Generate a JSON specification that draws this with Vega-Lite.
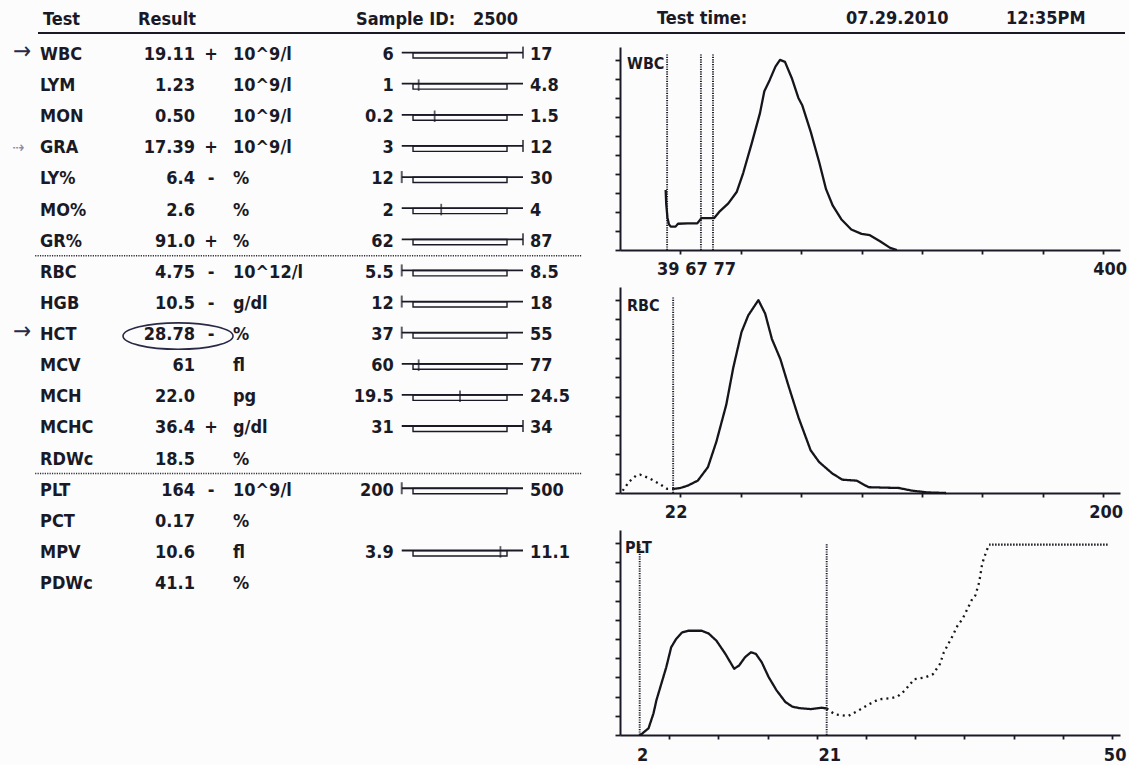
{
  "$schema": "https://vega.github.io/schema/vega-lite/v6.json",
  "background": "#fcfcfc",
  "padding": 0,
  "spacing": 0,
  "bounds": "flush",
  "config": {
    "view": {"stroke": null},
    "text": {"font": "DejaVu Sans Condensed, DejaVu Sans", "fontSize": 18, "fontWeight": "bold", "color": "#1a1a26", "baseline": "middle"},
    "axis": {"domainColor": "#1a1a26", "domainWidth": 2, "tickColor": "#1a1a26", "tickWidth": 1.8, "grid": false},
    "rule": {"color": "#1a1a26"},
    "tick": {"color": "#1a1a26"}
  },
  "datasets": {
    "report": [{"sample_id": "2500", "date": "07.29.2010", "time": "12:35PM"}],
    "rows": [
      {"test": "WBC", "result": "19.11", "flag": "+", "unit": "10^9/l", "low": 6, "high": 17},
      {"test": "LYM", "result": "1.23", "flag": "", "unit": "10^9/l", "low": 1, "high": 4.8, "frac": 0.06},
      {"test": "MON", "result": "0.50", "flag": "", "unit": "10^9/l", "low": 0.2, "high": 1.5, "frac": 0.23},
      {"test": "GRA", "result": "17.39", "flag": "+", "unit": "10^9/l", "low": 3, "high": 12},
      {"test": "LY%", "result": "6.4", "flag": "-", "unit": "%", "low": 12, "high": 30},
      {"test": "MO%", "result": "2.6", "flag": "", "unit": "%", "low": 2, "high": 4, "frac": 0.3},
      {"test": "GR%", "result": "91.0", "flag": "+", "unit": "%", "low": 62, "high": 87},
      {"test": "RBC", "result": "4.75", "flag": "-", "unit": "10^12/l", "low": 5.5, "high": 8.5},
      {"test": "HGB", "result": "10.5", "flag": "-", "unit": "g/dl", "low": 12, "high": 18},
      {"test": "HCT", "result": "28.78", "flag": "-", "unit": "%", "low": 37, "high": 55},
      {"test": "MCV", "result": "61", "flag": "", "unit": "fl", "low": 60, "high": 77, "frac": 0.06},
      {"test": "MCH", "result": "22.0", "flag": "", "unit": "pg", "low": 19.5, "high": 24.5, "frac": 0.5},
      {"test": "MCHC", "result": "36.4", "flag": "+", "unit": "g/dl", "low": 31, "high": 34},
      {"test": "RDWc", "result": "18.5", "flag": "", "unit": "%"},
      {"test": "PLT", "result": "164", "flag": "-", "unit": "10^9/l", "low": 200, "high": 500},
      {"test": "PCT", "result": "0.17", "flag": "", "unit": "%"},
      {"test": "MPV", "result": "10.6", "flag": "", "unit": "fl", "low": 3.9, "high": 11.1, "frac": 0.93},
      {"test": "PDWc", "result": "41.1", "flag": "", "unit": "%"}
    ],
    "seps": [{"after": "GR%"}, {"after": "RDWc"}],
    "notes": [
      {"test": "WBC", "sign": "→", "kind": "arrow"},
      {"test": "GRA", "sign": "⇢", "kind": "faint"},
      {"test": "HCT", "sign": "→", "kind": "arrow"}
    ],
    "circled": [{"test": "HCT"}],
    "hists": [{"hist": "WBC"}, {"hist": "RBC"}, {"hist": "PLT"}],
    "cuts": [
      {"hist": "WBC", "fl": 39}, {"hist": "WBC", "fl": 67}, {"hist": "WBC", "fl": 77},
      {"hist": "RBC", "fl": 22},
      {"hist": "PLT", "fl": 2}, {"hist": "PLT", "fl": 21}
    ],
    "ticklabels": [
      {"hist": "WBC", "fl": 39, "label": "39 67 77"},
      {"hist": "WBC", "fl": 400, "label": "400"},
      {"hist": "RBC", "fl": 22, "label": "22"},
      {"hist": "RBC", "fl": 200, "label": "200"},
      {"hist": "PLT", "fl": 2, "label": "2"},
      {"hist": "PLT", "fl": 21, "label": "21"},
      {"hist": "PLT", "fl": 50, "label": "50"}
    ],
    "wbc": [
      {"fl": 37.8, "n": 31.6}, {"fl": 38.3, "n": 24}, {"fl": 39.3, "n": 17}, {"fl": 40.5, "n": 13.5},
      {"fl": 42, "n": 12.3}, {"fl": 46, "n": 12.3}, {"fl": 48, "n": 13.8}, {"fl": 56, "n": 14},
      {"fl": 64, "n": 14}, {"fl": 67.5, "n": 16.8}, {"fl": 78, "n": 16.8}, {"fl": 82.8, "n": 20.5},
      {"fl": 89.7, "n": 24.5}, {"fl": 96.6, "n": 30.5}, {"fl": 102, "n": 40.5}, {"fl": 109, "n": 56},
      {"fl": 115.9, "n": 72}, {"fl": 119.5, "n": 83.5}, {"fl": 124, "n": 89.5}, {"fl": 128.7, "n": 96.5},
      {"fl": 132.5, "n": 100}, {"fl": 136.6, "n": 99}, {"fl": 142.2, "n": 90.5}, {"fl": 147.7, "n": 80},
      {"fl": 151, "n": 76}, {"fl": 158, "n": 62}, {"fl": 165, "n": 46}, {"fl": 170.6, "n": 32},
      {"fl": 176.2, "n": 23.3}, {"fl": 183.2, "n": 16.2}, {"fl": 191.5, "n": 10.8}, {"fl": 200, "n": 8.5},
      {"fl": 206.9, "n": 7.8}, {"fl": 215.3, "n": 4.6}, {"fl": 223.7, "n": 1.1}, {"fl": 229.3, "n": 0}
    ],
    "rbc": [
      {"fl": 1.1, "n": 1.2, "seg": "dotted"}, {"fl": 3.8, "n": 5.9, "seg": "dotted"}, {"fl": 6.7, "n": 9.1, "seg": "dotted"},
      {"fl": 8.3, "n": 9.5, "seg": "dotted"}, {"fl": 12, "n": 7.7, "seg": "dotted"}, {"fl": 16.2, "n": 4.8, "seg": "dotted"},
      {"fl": 19.5, "n": 2.2, "seg": "dotted"}, {"fl": 22, "n": 2.1, "seg": "dotted"},
      {"fl": 22, "n": 2.1, "seg": "solid"}, {"fl": 25, "n": 2.6, "seg": "solid"}, {"fl": 28, "n": 3.8, "seg": "solid"},
      {"fl": 32.2, "n": 6.4, "seg": "solid"}, {"fl": 36.4, "n": 13.4, "seg": "solid"}, {"fl": 39.9, "n": 26.6, "seg": "solid"},
      {"fl": 44, "n": 45.8, "seg": "solid"}, {"fl": 46.9, "n": 65, "seg": "solid"}, {"fl": 50.3, "n": 83.4, "seg": "solid"},
      {"fl": 53.1, "n": 92.1, "seg": "solid"}, {"fl": 57.3, "n": 100, "seg": "solid"}, {"fl": 60.1, "n": 93, "seg": "solid"},
      {"fl": 62.9, "n": 79.8, "seg": "solid"}, {"fl": 66.4, "n": 69.4, "seg": "solid"}, {"fl": 69.8, "n": 55.4, "seg": "solid"},
      {"fl": 74, "n": 38.8, "seg": "solid"}, {"fl": 78.9, "n": 22.2, "seg": "solid"}, {"fl": 82.4, "n": 16.1, "seg": "solid"},
      {"fl": 88, "n": 10, "seg": "solid"}, {"fl": 92.1, "n": 6.9, "seg": "solid"}, {"fl": 98, "n": 6.4, "seg": "solid"},
      {"fl": 102.9, "n": 3, "seg": "solid"}, {"fl": 115.4, "n": 2.6, "seg": "solid"}, {"fl": 121, "n": 1.2, "seg": "solid"},
      {"fl": 127.3, "n": 0.3, "seg": "solid"}, {"fl": 135, "n": 0, "seg": "solid"}
    ],
    "plt": [
      {"fl": 2.0, "n": 0, "seg": "solid"}, {"fl": 2.2, "n": 0.5, "seg": "solid"}, {"fl": 2.9, "n": 3.5, "seg": "solid"},
      {"fl": 3.4, "n": 11.2, "seg": "solid"}, {"fl": 3.7, "n": 18.1, "seg": "solid"}, {"fl": 4.2, "n": 26.7, "seg": "solid"},
      {"fl": 4.7, "n": 35.3, "seg": "solid"}, {"fl": 5.2, "n": 45.7, "seg": "solid"}, {"fl": 5.7, "n": 50, "seg": "solid"},
      {"fl": 6.3, "n": 53.4, "seg": "solid"}, {"fl": 6.9, "n": 54.3, "seg": "solid"}, {"fl": 8.3, "n": 54.3, "seg": "solid"},
      {"fl": 9, "n": 52.9, "seg": "solid"}, {"fl": 9.8, "n": 49.1, "seg": "solid"}, {"fl": 10.7, "n": 42.3, "seg": "solid"},
      {"fl": 11.6, "n": 34.5, "seg": "solid"}, {"fl": 12.1, "n": 36.2, "seg": "solid"}, {"fl": 12.7, "n": 40.5, "seg": "solid"},
      {"fl": 13.3, "n": 43.1, "seg": "solid"}, {"fl": 13.8, "n": 42.3, "seg": "solid"}, {"fl": 14.4, "n": 37.9, "seg": "solid"},
      {"fl": 15.1, "n": 30.2, "seg": "solid"}, {"fl": 15.9, "n": 23.3, "seg": "solid"}, {"fl": 16.8, "n": 17.2, "seg": "solid"},
      {"fl": 17.5, "n": 14.8, "seg": "solid"}, {"fl": 18.2, "n": 14, "seg": "solid"}, {"fl": 19.4, "n": 13.5, "seg": "solid"},
      {"fl": 20.5, "n": 14.2, "seg": "solid"}, {"fl": 21, "n": 13.8, "seg": "solid"},
      {"fl": 21, "n": 13.8, "seg": "dotted"}, {"fl": 21.8, "n": 10.8, "seg": "dotted"}, {"fl": 23.2, "n": 9.9, "seg": "dotted"},
      {"fl": 24.4, "n": 13.3, "seg": "dotted"}, {"fl": 25.3, "n": 16, "seg": "dotted"}, {"fl": 26.3, "n": 18.6, "seg": "dotted"},
      {"fl": 27.4, "n": 19.1, "seg": "dotted"}, {"fl": 28.2, "n": 20, "seg": "dotted"}, {"fl": 28.9, "n": 23, "seg": "dotted"},
      {"fl": 29.9, "n": 29.1, "seg": "dotted"}, {"fl": 31, "n": 30, "seg": "dotted"}, {"fl": 31.8, "n": 31.7, "seg": "dotted"},
      {"fl": 32.5, "n": 36.9, "seg": "dotted"}, {"fl": 32.9, "n": 43, "seg": "dotted"}, {"fl": 33.8, "n": 51.7, "seg": "dotted"},
      {"fl": 34.3, "n": 57, "seg": "dotted"}, {"fl": 34.8, "n": 60.5, "seg": "dotted"}, {"fl": 35.3, "n": 65.7, "seg": "dotted"},
      {"fl": 35.8, "n": 71, "seg": "dotted"}, {"fl": 36.1, "n": 72.7, "seg": "dotted"}, {"fl": 36.5, "n": 79.7, "seg": "dotted"},
      {"fl": 36.8, "n": 89.3, "seg": "dotted"}, {"fl": 37.2, "n": 95.4, "seg": "dotted"}, {"fl": 37.5, "n": 99.2, "seg": "dotted"},
      {"fl": 37.5, "n": 99.2, "seg": "dense"}, {"fl": 49.6, "n": 99.2, "seg": "dense"}
    ]
  },
  "vconcat": [
    {
      "width": 1129,
      "height": 47,
      "data": {"name": "report"},
      "layer": [
        {"mark": {"type": "text", "text": "Test", "align": "left"},
         "encoding": {"x": {"datum": 43, "type": "quantitative", "scale": {"domain": [0, 1129], "nice": false, "zero": false}, "axis": null},
                      "y": {"datum": 20, "type": "quantitative", "scale": {"domain": [0, 47], "reverse": true, "nice": false, "zero": false}, "axis": null}}},
        {"mark": {"type": "text", "text": "Result", "align": "left"},
         "encoding": {"x": {"datum": 138, "type": "quantitative", "scale": {"domain": [0, 1129], "nice": false, "zero": false}, "axis": null},
                      "y": {"datum": 20, "type": "quantitative", "scale": {"domain": [0, 47], "reverse": true, "nice": false, "zero": false}, "axis": null}}},
        {"mark": {"type": "text", "text": "Sample ID:", "align": "left"},
         "encoding": {"x": {"datum": 356, "type": "quantitative", "scale": {"domain": [0, 1129], "nice": false, "zero": false}, "axis": null},
                      "y": {"datum": 20, "type": "quantitative", "scale": {"domain": [0, 47], "reverse": true, "nice": false, "zero": false}, "axis": null}}},
        {"mark": {"type": "text", "align": "left"},
         "encoding": {"x": {"datum": 473, "type": "quantitative", "scale": {"domain": [0, 1129], "nice": false, "zero": false}, "axis": null},
                      "y": {"datum": 20, "type": "quantitative", "scale": {"domain": [0, 47], "reverse": true, "nice": false, "zero": false}, "axis": null},
                      "text": {"field": "sample_id"}}},
        {"mark": {"type": "text", "text": "Test time:", "align": "left"},
         "encoding": {"x": {"datum": 657, "type": "quantitative", "scale": {"domain": [0, 1129], "nice": false, "zero": false}, "axis": null},
                      "y": {"datum": 19, "type": "quantitative", "scale": {"domain": [0, 47], "reverse": true, "nice": false, "zero": false}, "axis": null}}},
        {"mark": {"type": "text", "align": "left"},
         "encoding": {"x": {"datum": 846, "type": "quantitative", "scale": {"domain": [0, 1129], "nice": false, "zero": false}, "axis": null},
                      "y": {"datum": 19, "type": "quantitative", "scale": {"domain": [0, 47], "reverse": true, "nice": false, "zero": false}, "axis": null},
                      "text": {"field": "date"}}},
        {"mark": {"type": "text", "align": "left"},
         "encoding": {"x": {"datum": 1006, "type": "quantitative", "scale": {"domain": [0, 1129], "nice": false, "zero": false}, "axis": null},
                      "y": {"datum": 19, "type": "quantitative", "scale": {"domain": [0, 47], "reverse": true, "nice": false, "zero": false}, "axis": null},
                      "text": {"field": "time"}}},
        {"mark": {"type": "rule", "strokeWidth": 2},
         "encoding": {"x": {"datum": 38, "type": "quantitative", "scale": {"domain": [0, 1129], "nice": false, "zero": false}, "axis": null},
                      "x2": {"datum": 1125},
                      "y": {"datum": 33, "type": "quantitative", "scale": {"domain": [0, 47], "reverse": true, "nice": false, "zero": false}, "axis": null}}}
      ]
    },
    {
      "spacing": 0,
      "bounds": "flush",
      "hconcat": [
        {
          "width": 620,
          "height": 545,
          "layer": [
            {"data": {"name": "seps"},
             "mark": {"type": "rule", "strokeDash": [1.2, 1.2], "strokeWidth": 1.6, "color": "#2e2e38", "yOffset": 14},
             "encoding": {"x": {"datum": -4.02, "type": "quantitative", "scale": {"domain": [-4.394, 2.202], "nice": false, "zero": false}, "axis": null},
                          "x2": {"datum": 1.8},
                          "y": {"field": "after", "type": "nominal", "scale": {"type": "point", "domain": ["WBC","LYM","MON","GRA","LY%","MO%","GR%","RBC","HGB","HCT","MCV","MCH","MCHC","RDWc","PLT","PCT","MPV","PDWc"], "padding": 0.257}, "axis": null}}},
            {"data": {"name": "rows"},
             "mark": {"type": "text", "align": "left"},
             "encoding": {"x": {"datum": -3.968, "type": "quantitative", "scale": {"domain": [-4.394, 2.202], "nice": false, "zero": false}, "axis": null},
                          "y": {"field": "test", "type": "nominal", "scale": {"type": "point", "domain": ["WBC","LYM","MON","GRA","LY%","MO%","GR%","RBC","HGB","HCT","MCV","MCH","MCHC","RDWc","PLT","PCT","MPV","PDWc"], "padding": 0.257}, "axis": null},
                          "text": {"field": "test"}}},
            {"data": {"name": "rows"},
             "mark": {"type": "text", "align": "right"},
             "encoding": {"x": {"datum": -2.319, "type": "quantitative", "scale": {"domain": [-4.394, 2.202], "nice": false, "zero": false}, "axis": null},
                          "y": {"field": "test", "type": "nominal", "scale": {"type": "point", "domain": ["WBC","LYM","MON","GRA","LY%","MO%","GR%","RBC","HGB","HCT","MCV","MCH","MCHC","RDWc","PLT","PCT","MPV","PDWc"], "padding": 0.257}, "axis": null},
                          "text": {"field": "result"}}},
            {"data": {"name": "rows"},
             "mark": {"type": "text", "align": "center"},
             "encoding": {"x": {"datum": -2.149, "type": "quantitative", "scale": {"domain": [-4.394, 2.202], "nice": false, "zero": false}, "axis": null},
                          "y": {"field": "test", "type": "nominal", "scale": {"type": "point", "domain": ["WBC","LYM","MON","GRA","LY%","MO%","GR%","RBC","HGB","HCT","MCV","MCH","MCHC","RDWc","PLT","PCT","MPV","PDWc"], "padding": 0.257}, "axis": null},
                          "text": {"field": "flag"}}},
            {"data": {"name": "rows"},
             "mark": {"type": "text", "align": "left"},
             "encoding": {"x": {"datum": -1.915, "type": "quantitative", "scale": {"domain": [-4.394, 2.202], "nice": false, "zero": false}, "axis": null},
                          "y": {"field": "test", "type": "nominal", "scale": {"type": "point", "domain": ["WBC","LYM","MON","GRA","LY%","MO%","GR%","RBC","HGB","HCT","MCV","MCH","MCHC","RDWc","PLT","PCT","MPV","PDWc"], "padding": 0.257}, "axis": null},
                          "text": {"field": "unit"}}},
            {"data": {"name": "rows"},
             "transform": [{"filter": "isValid(datum.low)"}],
             "mark": {"type": "bar", "size": 5.3, "yOffset": 0.4, "fill": "#fcfcfc", "stroke": "#1a1a26", "strokeWidth": 1.4},
             "encoding": {"x": {"datum": 0, "type": "quantitative", "scale": {"domain": [-4.394, 2.202], "nice": false, "zero": false}, "axis": null},
                          "x2": {"datum": 1},
                          "y": {"field": "test", "type": "nominal", "scale": {"type": "point", "domain": ["WBC","LYM","MON","GRA","LY%","MO%","GR%","RBC","HGB","HCT","MCV","MCH","MCHC","RDWc","PLT","PCT","MPV","PDWc"], "padding": 0.257}, "axis": null}}},
            {"data": {"name": "rows"},
             "transform": [{"filter": "isValid(datum.low)"}],
             "mark": {"type": "rule", "strokeWidth": 1.8, "yOffset": -2.4},
             "encoding": {"x": {"datum": -0.12, "type": "quantitative", "scale": {"domain": [-4.394, 2.202], "nice": false, "zero": false}, "axis": null},
                          "x2": {"datum": 1.17},
                          "y": {"field": "test", "type": "nominal", "scale": {"type": "point", "domain": ["WBC","LYM","MON","GRA","LY%","MO%","GR%","RBC","HGB","HCT","MCV","MCH","MCHC","RDWc","PLT","PCT","MPV","PDWc"], "padding": 0.257}, "axis": null}}},
            {"data": {"name": "rows"},
             "transform": [{"filter": "isValid(datum.low)"}],
             "mark": {"type": "text", "align": "right", "dx": -8},
             "encoding": {"x": {"datum": -0.12, "type": "quantitative", "scale": {"domain": [-4.394, 2.202], "nice": false, "zero": false}, "axis": null},
                          "y": {"field": "test", "type": "nominal", "scale": {"type": "point", "domain": ["WBC","LYM","MON","GRA","LY%","MO%","GR%","RBC","HGB","HCT","MCV","MCH","MCHC","RDWc","PLT","PCT","MPV","PDWc"], "padding": 0.257}, "axis": null},
                          "text": {"field": "low", "type": "nominal"}}},
            {"data": {"name": "rows"},
             "transform": [{"filter": "isValid(datum.low)"}],
             "mark": {"type": "text", "align": "left", "dx": 7},
             "encoding": {"x": {"datum": 1.17, "type": "quantitative", "scale": {"domain": [-4.394, 2.202], "nice": false, "zero": false}, "axis": null},
                          "y": {"field": "test", "type": "nominal", "scale": {"type": "point", "domain": ["WBC","LYM","MON","GRA","LY%","MO%","GR%","RBC","HGB","HCT","MCV","MCH","MCHC","RDWc","PLT","PCT","MPV","PDWc"], "padding": 0.257}, "axis": null},
                          "text": {"field": "high", "type": "nominal"}}},
            {"data": {"name": "rows"},
             "transform": [{"filter": "isValid(datum.frac)"}],
             "mark": {"type": "tick", "orient": "vertical", "size": 11.5, "thickness": 1.8, "yOffset": -1},
             "encoding": {"x": {"field": "frac", "type": "quantitative", "scale": {"domain": [-4.394, 2.202], "nice": false, "zero": false}, "axis": null},
                          "y": {"field": "test", "type": "nominal", "scale": {"type": "point", "domain": ["WBC","LYM","MON","GRA","LY%","MO%","GR%","RBC","HGB","HCT","MCV","MCH","MCHC","RDWc","PLT","PCT","MPV","PDWc"], "padding": 0.257}, "axis": null}}},
            {"data": {"name": "rows"},
             "transform": [{"filter": "datum.flag === '+'"}],
             "mark": {"type": "tick", "orient": "vertical", "size": 12, "thickness": 2, "yOffset": -2.4},
             "encoding": {"x": {"datum": 1.17, "type": "quantitative", "scale": {"domain": [-4.394, 2.202], "nice": false, "zero": false}, "axis": null},
                          "y": {"field": "test", "type": "nominal", "scale": {"type": "point", "domain": ["WBC","LYM","MON","GRA","LY%","MO%","GR%","RBC","HGB","HCT","MCV","MCH","MCHC","RDWc","PLT","PCT","MPV","PDWc"], "padding": 0.257}, "axis": null}}},
            {"data": {"name": "rows"},
             "transform": [{"filter": "datum.flag === '-'"}],
             "mark": {"type": "tick", "orient": "vertical", "size": 12, "thickness": 2, "yOffset": -2.4},
             "encoding": {"x": {"datum": -0.12, "type": "quantitative", "scale": {"domain": [-4.394, 2.202], "nice": false, "zero": false}, "axis": null},
                          "y": {"field": "test", "type": "nominal", "scale": {"type": "point", "domain": ["WBC","LYM","MON","GRA","LY%","MO%","GR%","RBC","HGB","HCT","MCV","MCH","MCHC","RDWc","PLT","PCT","MPV","PDWc"], "padding": 0.257}, "axis": null}}},
            {"data": {"name": "notes"},
             "transform": [{"filter": "datum.kind === 'arrow'"}],
             "mark": {"type": "text", "align": "center", "fontSize": 24, "fontWeight": "normal", "color": "#2a2a48", "yOffset": -3},
             "encoding": {"x": {"datum": -4.16, "type": "quantitative", "scale": {"domain": [-4.394, 2.202], "nice": false, "zero": false}, "axis": null},
                          "y": {"field": "test", "type": "nominal", "scale": {"type": "point", "domain": ["WBC","LYM","MON","GRA","LY%","MO%","GR%","RBC","HGB","HCT","MCV","MCH","MCHC","RDWc","PLT","PCT","MPV","PDWc"], "padding": 0.257}, "axis": null},
                          "text": {"field": "sign"}}},
            {"data": {"name": "notes"},
             "transform": [{"filter": "datum.kind === 'faint'"}],
             "mark": {"type": "text", "align": "center", "fontSize": 16, "fontWeight": "normal", "color": "#8a8aa8"},
             "encoding": {"x": {"datum": -4.2, "type": "quantitative", "scale": {"domain": [-4.394, 2.202], "nice": false, "zero": false}, "axis": null},
                          "y": {"field": "test", "type": "nominal", "scale": {"type": "point", "domain": ["WBC","LYM","MON","GRA","LY%","MO%","GR%","RBC","HGB","HCT","MCV","MCH","MCHC","RDWc","PLT","PCT","MPV","PDWc"], "padding": 0.257}, "axis": null},
                          "text": {"field": "sign"}}},
            {"data": {"name": "circled"},
             "mark": {"type": "point", "shape": "M-1,0A1,0.24 0 1,1 1,0A1,0.24 0 1,1 -1,0Z", "size": 12100, "filled": false, "stroke": "#2a2a48", "strokeWidth": 1.6, "opacity": 1, "yOffset": 1},
             "encoding": {"x": {"datum": -2.5, "type": "quantitative", "scale": {"domain": [-4.394, 2.202], "nice": false, "zero": false}, "axis": null},
                          "y": {"field": "test", "type": "nominal", "scale": {"type": "point", "domain": ["WBC","LYM","MON","GRA","LY%","MO%","GR%","RBC","HGB","HCT","MCV","MCH","MCHC","RDWc","PLT","PCT","MPV","PDWc"], "padding": 0.257}, "axis": null}}}
          ]
        },
        {
          "spacing": 37,
          "bounds": "flush",
          "vconcat": [
            {
              "width": 500,
              "height": 203,
              "layer": [
                {"data": {"name": "cuts"},
                 "transform": [{"filter": "datum.hist === 'WBC'"}],
                 "mark": {"type": "rule", "strokeDash": [1.2, 1.2], "strokeWidth": 1.9},
                 "encoding": {
                   "x": {"field": "fl", "type": "quantitative", "scale": {"domain": [0, 414], "nice": false, "zero": false}, "axis": {"values": [50,100,150,200,250,300,350,400], "labels": false, "title": null, "tickSize": 4}},
                   "y": {"datum": 0, "type": "quantitative", "scale": {"domain": [0, 106.8], "nice": false, "zero": false}, "axis": {"values": [0,10,20,30,40,50,60,70,80,90,100], "labels": false, "title": null, "tickSize": 5}},
                   "y2": {"datum": 103.5}}},
                {"data": {"name": "wbc"},
                 "mark": {"type": "line", "color": "#15151c", "strokeWidth": 2.3, "strokeJoin": "round"},
                 "encoding": {
                   "x": {"field": "fl", "type": "quantitative", "scale": {"domain": [0, 414], "nice": false, "zero": false}, "axis": {"values": [50,100,150,200,250,300,350,400], "labels": false, "title": null, "tickSize": 4}},
                   "y": {"field": "n", "type": "quantitative", "scale": {"domain": [0, 106.8], "nice": false, "zero": false}, "axis": {"values": [0,10,20,30,40,50,60,70,80,90,100], "labels": false, "title": null, "tickSize": 5}}}},
                {"data": {"name": "hists"},
                 "transform": [{"filter": "datum.hist === 'WBC'"}],
                 "mark": {"type": "text", "align": "left", "fontSize": 16},
                 "encoding": {
                   "x": {"datum": 5.8, "type": "quantitative", "scale": {"domain": [0, 414], "nice": false, "zero": false}, "axis": {"values": [50,100,150,200,250,300,350,400], "labels": false, "title": null, "tickSize": 4}},
                   "y": {"datum": 97.9, "type": "quantitative", "scale": {"domain": [0, 106.8], "nice": false, "zero": false}, "axis": {"values": [0,10,20,30,40,50,60,70,80,90,100], "labels": false, "title": null, "tickSize": 5}},
                   "text": {"field": "hist"}}},
                {"data": {"name": "ticklabels"},
                 "transform": [{"filter": "datum.hist === 'WBC' && datum.fl === 39"}],
                 "mark": {"type": "text", "align": "left", "fontSize": 18, "dx": -10, "dy": 20},
                 "encoding": {
                   "x": {"field": "fl", "type": "quantitative", "scale": {"domain": [0, 414], "nice": false, "zero": false}, "axis": {"values": [50,100,150,200,250,300,350,400], "labels": false, "title": null, "tickSize": 4}},
                   "y": {"datum": 0, "type": "quantitative", "scale": {"domain": [0, 106.8], "nice": false, "zero": false}, "axis": {"values": [0,10,20,30,40,50,60,70,80,90,100], "labels": false, "title": null, "tickSize": 5}},
                   "text": {"field": "label"}}},
                {"data": {"name": "ticklabels"},
                 "transform": [{"filter": "datum.hist === 'WBC' && datum.fl === 400"}],
                 "mark": {"type": "text", "align": "center", "fontSize": 18, "dx": 7, "dy": 20},
                 "encoding": {
                   "x": {"field": "fl", "type": "quantitative", "scale": {"domain": [0, 414], "nice": false, "zero": false}, "axis": {"values": [50,100,150,200,250,300,350,400], "labels": false, "title": null, "tickSize": 4}},
                   "y": {"datum": 0, "type": "quantitative", "scale": {"domain": [0, 106.8], "nice": false, "zero": false}, "axis": {"values": [0,10,20,30,40,50,60,70,80,90,100], "labels": false, "title": null, "tickSize": 5}},
                   "text": {"field": "label"}}}
              ]
            },
            {
              "width": 500,
              "height": 206,
              "layer": [
                {"data": {"name": "cuts"},
                 "transform": [{"filter": "datum.hist === 'RBC'"}],
                 "mark": {"type": "rule", "strokeDash": [1.2, 1.2], "strokeWidth": 1.9},
                 "encoding": {
                   "x": {"field": "fl", "type": "quantitative", "scale": {"domain": [0, 207], "nice": false, "zero": false}, "axis": {"values": [25,50,75,100,125,150,175,200], "labels": false, "title": null, "tickSize": 4}},
                   "y": {"datum": 0, "type": "quantitative", "scale": {"domain": [0, 106.8], "nice": false, "zero": false}, "axis": {"values": [0,10,20,30,40,50,60,70,80,90,100], "labels": false, "title": null, "tickSize": 5}},
                   "y2": {"datum": 102}}},
                {"data": {"name": "rbc"},
                 "mark": {"type": "line", "color": "#15151c", "strokeWidth": 2.3, "strokeJoin": "round"},
                 "encoding": {
                   "x": {"field": "fl", "type": "quantitative", "scale": {"domain": [0, 207], "nice": false, "zero": false}, "axis": {"values": [25,50,75,100,125,150,175,200], "labels": false, "title": null, "tickSize": 4}},
                   "y": {"field": "n", "type": "quantitative", "scale": {"domain": [0, 106.8], "nice": false, "zero": false}, "axis": {"values": [0,10,20,30,40,50,60,70,80,90,100], "labels": false, "title": null, "tickSize": 5}},
                   "strokeDash": {"field": "seg", "type": "nominal", "scale": {"domain": ["solid", "dotted", "dense"], "range": [[1, 0], [2, 4], [1.5, 1.5]]}, "legend": null}}},
                {"data": {"name": "hists"},
                 "transform": [{"filter": "datum.hist === 'RBC'"}],
                 "mark": {"type": "text", "align": "left", "fontSize": 16},
                 "encoding": {
                   "x": {"datum": 2.9, "type": "quantitative", "scale": {"domain": [0, 207], "nice": false, "zero": false}, "axis": {"values": [25,50,75,100,125,150,175,200], "labels": false, "title": null, "tickSize": 4}},
                   "y": {"datum": 97.2, "type": "quantitative", "scale": {"domain": [0, 106.8], "nice": false, "zero": false}, "axis": {"values": [0,10,20,30,40,50,60,70,80,90,100], "labels": false, "title": null, "tickSize": 5}},
                   "text": {"field": "hist"}}},
                {"data": {"name": "ticklabels"},
                 "transform": [{"filter": "datum.hist === 'RBC'"}],
                 "mark": {"type": "text", "align": "center", "fontSize": 18, "dx": 3, "dy": 20},
                 "encoding": {
                   "x": {"field": "fl", "type": "quantitative", "scale": {"domain": [0, 207], "nice": false, "zero": false}, "axis": {"values": [25,50,75,100,125,150,175,200], "labels": false, "title": null, "tickSize": 4}},
                   "y": {"datum": 0, "type": "quantitative", "scale": {"domain": [0, 106.8], "nice": false, "zero": false}, "axis": {"values": [0,10,20,30,40,50,60,70,80,90,100], "labels": false, "title": null, "tickSize": 5}},
                   "text": {"field": "label"}}}
              ]
            },
            {
              "width": 500,
              "height": 205,
              "layer": [
                {"data": {"name": "cuts"},
                 "transform": [{"filter": "datum.hist === 'PLT'"}],
                 "mark": {"type": "rule", "strokeDash": [1.2, 1.2], "strokeWidth": 1.9},
                 "encoding": {
                   "x": {"field": "fl", "type": "quantitative", "scale": {"domain": [0, 50.8], "nice": false, "zero": false}, "axis": {"values": [5,10,15,20,25,30,35,40,45,50], "labels": false, "title": null, "tickSize": 4}},
                   "y": {"datum": 0, "type": "quantitative", "scale": {"domain": [0, 106.8], "nice": false, "zero": false}, "axis": {"values": [0,10,20,30,40,50,60,70,80,90,100], "labels": false, "title": null, "tickSize": 5}},
                   "y2": {"datum": 100}}},
                {"data": {"name": "plt"},
                 "mark": {"type": "line", "color": "#15151c", "strokeWidth": 2.3, "strokeJoin": "round"},
                 "encoding": {
                   "x": {"field": "fl", "type": "quantitative", "scale": {"domain": [0, 50.8], "nice": false, "zero": false}, "axis": {"values": [5,10,15,20,25,30,35,40,45,50], "labels": false, "title": null, "tickSize": 4}},
                   "y": {"field": "n", "type": "quantitative", "scale": {"domain": [0, 106.8], "nice": false, "zero": false}, "axis": {"values": [0,10,20,30,40,50,60,70,80,90,100], "labels": false, "title": null, "tickSize": 5}},
                   "strokeDash": {"field": "seg", "type": "nominal", "scale": {"domain": ["solid", "dotted", "dense"], "range": [[1, 0], [2.2, 7], [1.5, 1.5]]}, "legend": null}}},
                {"data": {"name": "hists"},
                 "transform": [{"filter": "datum.hist === 'PLT'"}],
                 "mark": {"type": "text", "align": "left", "fontSize": 16},
                 "encoding": {
                   "x": {"datum": 0.5, "type": "quantitative", "scale": {"domain": [0, 50.8], "nice": false, "zero": false}, "axis": {"values": [5,10,15,20,25,30,35,40,45,50], "labels": false, "title": null, "tickSize": 4}},
                   "y": {"datum": 97.4, "type": "quantitative", "scale": {"domain": [0, 106.8], "nice": false, "zero": false}, "axis": {"values": [0,10,20,30,40,50,60,70,80,90,100], "labels": false, "title": null, "tickSize": 5}},
                   "text": {"field": "hist"}}},
                {"data": {"name": "ticklabels"},
                 "transform": [{"filter": "datum.hist === 'PLT'"}],
                 "mark": {"type": "text", "align": "center", "fontSize": 18, "dx": 3, "dy": 21},
                 "encoding": {
                   "x": {"field": "fl", "type": "quantitative", "scale": {"domain": [0, 50.8], "nice": false, "zero": false}, "axis": {"values": [5,10,15,20,25,30,35,40,45,50], "labels": false, "title": null, "tickSize": 4}},
                   "y": {"datum": 0, "type": "quantitative", "scale": {"domain": [0, 106.8], "nice": false, "zero": false}, "axis": {"values": [0,10,20,30,40,50,60,70,80,90,100], "labels": false, "title": null, "tickSize": 5}},
                   "text": {"field": "label"}}}
              ]
            }
          ]
        }
      ]
    }
  ]
}
